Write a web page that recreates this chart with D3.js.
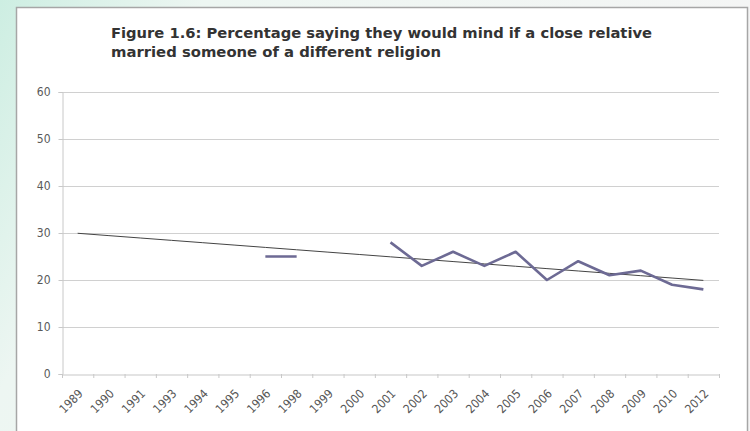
<html>
<head>
	<title>Figure 1.6</title>
<script src="https://cdn.jsdelivr.net/npm/d3@7"></script>
<style>
	body { margin: 0; }
	text { font-family: "Liberation Sans Narrow", "DejaVu Sans Condensed", "Liberation Sans", sans-serif; }
</style>
</head>
<body>

<div id='chart'></div>

<script type="text/javascript">

// data
var years = ['1989', '1990', '1991', '1993', '1994', '1995', '1996', '1998', '1999', '2000',
	'2001', '2002', '2003', '2004', '2005', '2006', '2007', '2008', '2009', '2010', '2012']

var mindPct = [null, null, null, null, null, null, 25, 25, null, null,
	28, 23, 26, 23, 26, 20, 24, 21, 22, 19, 18]

var yTicks = [0, 10, 20, 30, 40, 50, 60]

var titleLines = ['Figure 1.6: Percentage saying they would mind if a close relative',
	'married someone of a different religion']


var W = 750, H = 431

var svg = d3.select('#chart').append('svg')
	.attr('width', W)
	.attr('height', H)

// page background (mint fade on the left)
var defs = svg.append('defs')
var grad = defs.append('linearGradient').attr('id', 'bg').attr('x1', 0).attr('x2', 1).attr('y1', 0).attr('y2', 0.3)
grad.append('stop').attr('offset', '0%').attr('stop-color', '#cdeee2')
grad.append('stop').attr('offset', '25%').attr('stop-color', '#edf6f2')
grad.append('stop').attr('offset', '100%').attr('stop-color', '#f5f5f5')

svg.append('rect').attr('width', W).attr('height', H).attr('fill', 'url(#bg)')

// chart frame
svg.append('rect')
	.attr('x', 16.5).attr('y', 7.5)
	.attr('width', 731).attr('height', 440)
	.attr('fill', 'white')
	.attr('stroke', '#a6a6a6')
	.attr('stroke-width', 1.5)

// title
svg.append('g').selectAll('text')
	.data(titleLines)
	.join('text')
	.attr('x', 111)
	.attr('y', (d, i) => 38 + i * 19)
	.attr('font-size', 14)
	.attr('font-weight', 'bold')
	.attr('fill', '#333333')
	.attr('textLength', (d, i) => i == 0 ? 541 : 330)
	.attr('lengthAdjust', 'spacingAndGlyphs')
	.text(d => d)

// scales
var x = d3.scaleBand().domain(years).range([62, 719])
var y = d3.scaleLinear().domain([0, 60]).range([374, 92])

// gridlines
svg.append('g').selectAll('line')
	.data(yTicks.filter(d => d > 0))
	.join('line')
	.attr('x1', 62).attr('x2', 719)
	.attr('y1', d => y(d) + 0.5).attr('y2', d => y(d) + 0.5)
	.attr('stroke', '#d0d0d0')
	.attr('stroke-width', 1.2)

// y axis
var yAxis = svg.append('g')
	.attr('transform', 'translate(62.5,0)')
	.call(d3.axisLeft(y).tickValues(yTicks).tickSize(4).tickPadding(8))
yAxis.select('.domain').attr('stroke', '#c8c8c8')
yAxis.selectAll('.tick line').attr('stroke', '#c8c8c8')
yAxis.selectAll('text').attr('font-size', 12).attr('fill', '#595959')

// x axis
var xAxis = svg.append('g')
	.attr('transform', 'translate(0,' + (y(0) + 0.5) + ')')
	.call(d3.axisBottom(x).tickSize(0).tickSizeOuter(0))
xAxis.select('.domain').attr('stroke', '#c8c8c8').attr('stroke-width', 1.2)
xAxis.selectAll('.tick text')
	.attr('font-size', 12)
	.attr('fill', '#555555')
	.attr('text-anchor', 'end')
	.attr('transform', 'translate(3,17) rotate(-45)')
	.attr('dy', '0.35em')
	.attr('y', 0)

// tick marks between categories
svg.append('g').selectAll('line')
	.data(d3.range(years.length + 1))
	.join('line')
	.attr('x1', i => 62 + i * x.step() + 0.5)
	.attr('x2', i => 62 + i * x.step() + 0.5)
	.attr('y1', y(0)).attr('y2', y(0) + 4)
	.attr('stroke', '#c8c8c8')

// linear trend (least squares on category index, like the spreadsheet does)
var pts = mindPct.map((v, i) => [i + 1, v]).filter(d => d[1] != null)
var mx = d3.mean(pts, d => d[0]), my = d3.mean(pts, d => d[1])
var slope = d3.sum(pts, d => (d[0] - mx) * (d[1] - my)) / d3.sum(pts, d => (d[0] - mx) * (d[0] - mx))
var trend = years.map((yr, i) => my + slope * (i + 1 - mx))

var cx = yr => x(yr) + x.bandwidth() / 2

svg.append('path')
	.datum(years)
	.attr('fill', 'none')
	.attr('stroke', '#444444')
	.attr('stroke-width', 1)
	.attr('d', d3.line().x(d => cx(d)).y((d, i) => y(trend[i])))

// data line, broken where there is no survey value
svg.append('path')
	.datum(years)
	.attr('fill', 'none')
	.attr('stroke', '#6d6a94')
	.attr('stroke-width', 2.6)
	.attr('stroke-linejoin', 'round')
	.attr('d', d3.line()
		.defined((d, i) => mindPct[i] != null)
		.x(d => cx(d))
		.y((d, i) => y(mindPct[i])))

</script>

</body>
</html>
